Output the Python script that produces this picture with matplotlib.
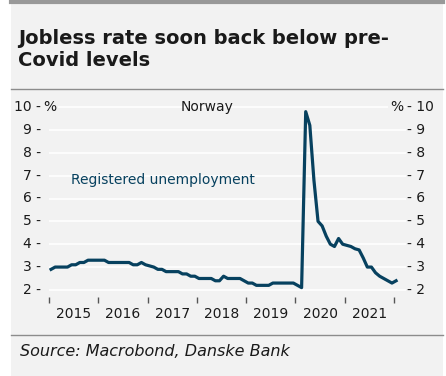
import numpy as np
import matplotlib.pyplot as plt
from matplotlib.patches import Rectangle
from matplotlib.lines import Line2D

# monthly registered unemployment, Jan 2015 - Jan 2022
rate = [2.9, 3.0, 3.0, 3.0, 3.0, 3.1, 3.1, 3.2, 3.2, 3.3, 3.3, 3.3,   # 2015
        3.3, 3.3, 3.2, 3.2, 3.2, 3.2, 3.2, 3.2, 3.1, 3.1, 3.2, 3.1,   # 2016
        3.05, 3.0, 2.9, 2.9, 2.8, 2.8, 2.8, 2.8, 2.7, 2.7, 2.6, 2.6,  # 2017
        2.5, 2.5, 2.5, 2.5, 2.4, 2.4, 2.6, 2.5, 2.5, 2.5, 2.5, 2.4,   # 2018
        2.3, 2.3, 2.2, 2.2, 2.2, 2.2, 2.3, 2.3, 2.3, 2.3, 2.3, 2.3,   # 2019
        2.2, 2.1, 9.8, 9.2, 6.8, 5.0, 4.8, 4.35, 4.0, 3.9, 4.25, 4.0, # 2020
        3.95, 3.9, 3.8, 3.75, 3.4, 3.0, 3.0, 2.75, 2.6, 2.5, 2.4, 2.3, # 2021
        2.4]                                                           # 2022
t = 2015 + (np.arange(len(rate)) + 0.5) / 12

years = [2015, 2016, 2017, 2018, 2019, 2020, 2021]
yticks = [2, 3, 4, 5, 6, 7, 8, 9, 10]

bg = '#f2f2f2'
navy = '#07415f'
txt = '#1a1a1a'

W, H = 446, 376
fig = plt.figure(figsize=(W / 100, H / 100), dpi=100)
fig.patch.set_facecolor('white')
fig.patches.append(Rectangle((11 / W, 0), 432 / W, 1, transform=fig.transFigure,
                             facecolor=bg, edgecolor='none', zorder=-10))
fig.lines.append(Line2D([11 / W, 443 / W], [1 - 2 / H, 1 - 2 / H], transform=fig.transFigure,
                        color='#999999', lw=3))
for yy in [89, 335]:
    fig.lines.append(Line2D([11 / W, 443 / W], [1 - yy / H, 1 - yy / H], transform=fig.transFigure,
                            color='#8c8c8c', lw=1))

fig.text(18 / W, 1 - 50 / H, 'Jobless rate soon back below pre-\nCovid levels', fontsize=14,
         color=txt, va='center', ha='left', linespacing=1.2, fontweight='bold')
fig.text(20 / W, 1 - 352 / H, 'Source: Macrobond, Danske Bank', fontsize=11.5,
         style='italic', color=txt, va='center', ha='left')

# axes: x 49..406 px, y 100..297 px
ax = fig.add_axes([49 / W, 1 - 297 / H, 357 / W, 197 / H])
ax.set_facecolor(bg)
for s in ax.spines.values():
    s.set_visible(False)

ax.plot(t, rate, color=navy, lw=2.3, solid_joinstyle='round', zorder=3)

ax.set_xlim(2015.0, 2022.243)
ax.set_ylim(1.69, 10.31)

ax.set_yticks(yticks)
ax.yaxis.grid(True, color='white', lw=1.2)
ax.set_axisbelow(True)
ax.tick_params(axis='y', length=0, left=False, right=False, labelleft=False, labelright=False)
for v in yticks:
    ax.annotate(f'{v} -', (0, v), xycoords=('axes fraction', 'data'),
                xytext=(-8, 0), textcoords='offset pixels',
                ha='right', va='center', fontsize=10, color=txt)
    ax.annotate(f'- {v}', (1, v), xycoords=('axes fraction', 'data'),
                xytext=(1, 0), textcoords='offset pixels',
                ha='left', va='center', fontsize=10, color=txt)
ax.annotate('%', (0, 10), xycoords=('axes fraction', 'data'), xytext=(-6, 0),
            textcoords='offset pixels', ha='left', va='center', fontsize=10, color=txt,
            bbox=dict(facecolor=bg, edgecolor='none', pad=1))
ax.annotate('%', (1, 10), xycoords=('axes fraction', 'data'), xytext=(-3, 0),
            textcoords='offset pixels', ha='right', va='center', fontsize=10, color=txt,
            bbox=dict(facecolor=bg, edgecolor='none', pad=1))

ax.set_xticks([y + 0.5 for y in years])
ax.set_xticklabels([str(y) for y in years])
ax.set_xticks(years + [2022], minor=True)
ax.tick_params(axis='x', which='major', length=0, pad=7, labelsize=10, colors=txt)
ax.tick_params(axis='x', which='minor', length=4, width=1, color='#555555', direction='out')

ax.text(2018.2, 10, 'Norway', ha='center', va='center', fontsize=10, color=txt)
ax.text(2015.45, 6.8, 'Registered unemployment', ha='left', va='center', fontsize=10, color=navy)

fig.savefig('out.png', dpi=100, facecolor=fig.get_facecolor())
